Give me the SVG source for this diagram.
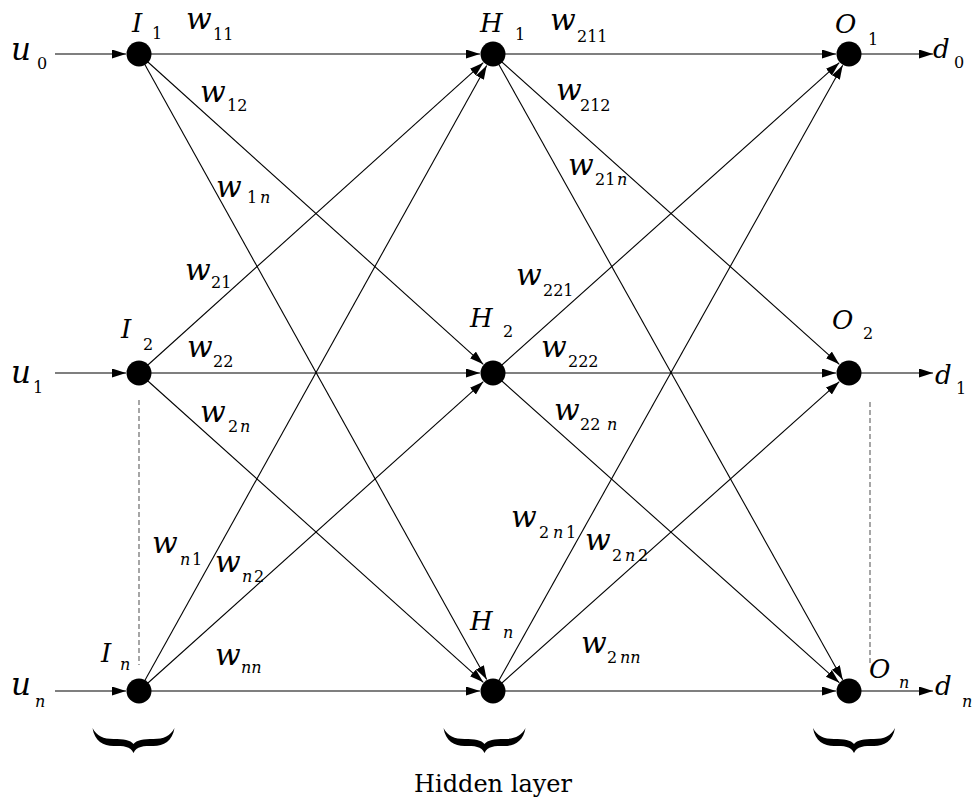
<svg xmlns="http://www.w3.org/2000/svg" width="979" height="801" viewBox="0 0 979 801">
<defs>
<style>
.e{stroke:#000;stroke-width:1.1;fill:none;marker-end:url(#ah)}
.d{stroke:#808080;stroke-width:1.4;stroke-dasharray:5,3;fill:none}
.n{fill:#000}
.L{font-style:italic;font-size:26px}
.W{font-style:italic;font-size:30px}
.U{font-style:italic;font-size:31px}
.s{font-size:16px}
.si{font-style:italic;font-size:16px}
.t{font-size:24px}
</style>
<marker id="ah" markerWidth="15" markerHeight="10" refX="14" refY="4.5" orient="auto" markerUnits="userSpaceOnUse">
<path d="M0,0 L14,4.5 L0,9 Z" fill="#000"/>
</marker>
<path id="brace" d="M-41,0 C-39,13 -30,18 -20,18 C-10,18 -3,18 0,25 C3,18 10,18 20,18 C30,18 39,13 41,0 C37,8 30,11 20,11 C10,11 3,12 0,16 C-3,12 -10,11 -20,11 C-30,11 -37,8 -41,0 Z" fill="#000"/>
</defs>
<rect width="979" height="801" fill="#fff"/>

<g id="connectors">
<line class="e" x1="55" y1="54" x2="126" y2="54"/>
<line class="e" x1="55" y1="373" x2="126" y2="373"/>
<line class="e" x1="55" y1="691" x2="126" y2="691"/>
<line class="e" x1="139" y1="54" x2="480" y2="54"/>
<line class="e" x1="139" y1="54" x2="483.3" y2="364.3"/>
<line class="e" x1="139" y1="54" x2="486.7" y2="679.6"/>
<line class="e" x1="139" y1="373" x2="483.3" y2="62.7"/>
<line class="e" x1="139" y1="373" x2="480" y2="373"/>
<line class="e" x1="139" y1="373" x2="483.3" y2="682.3"/>
<line class="e" x1="139" y1="691" x2="486.7" y2="65.4"/>
<line class="e" x1="139" y1="691" x2="483.3" y2="381.7"/>
<line class="e" x1="139" y1="691" x2="480" y2="691"/>
<line class="e" x1="493" y1="54" x2="836" y2="54"/>
<line class="e" x1="493" y1="54" x2="839.3" y2="364.3"/>
<line class="e" x1="493" y1="54" x2="842.7" y2="679.7"/>
<line class="e" x1="493" y1="373" x2="839.3" y2="62.7"/>
<line class="e" x1="493" y1="373" x2="836" y2="373"/>
<line class="e" x1="493" y1="373" x2="839.3" y2="682.7"/>
<line class="e" x1="493" y1="691" x2="842.7" y2="65.3"/>
<line class="e" x1="493" y1="691" x2="839.3" y2="381.7"/>
<line class="e" x1="493" y1="691" x2="836" y2="691"/>
<line class="e" x1="849" y1="54" x2="933" y2="54"/>
<line class="e" x1="849" y1="373" x2="933" y2="373"/>
<line class="e" x1="849" y1="691" x2="933" y2="691"/>
<line class="d" x1="139" y1="400" x2="139" y2="665"/>
<line class="d" x1="870" y1="402" x2="870" y2="664"/>
</g>

<g font-family="DejaVu Serif, serif" fill="#000">
<g id="weights">
<text class="W" x="186" y="29">w</text><text class="s" x="213" y="40">11</text>
<text class="W" x="200" y="102">w</text><text class="s" x="227" y="111">12</text>
<text class="W" x="216" y="197">w</text><text class="s" x="247" y="203">1</text><text class="si" x="260" y="203">n</text>
<text class="W" x="185" y="280">w</text><text class="s" x="211" y="288">21</text>
<text class="W" x="187" y="357">w</text><text class="s" x="213" y="367">22</text>
<text class="W" x="200" y="422">w</text><text class="s" x="228" y="432">2</text><text class="si" x="240" y="432">n</text>
<text class="W" x="152" y="553">w</text><text class="si" x="180" y="565">n</text><text class="s" x="192" y="565">1</text>
<text class="W" x="215" y="572">w</text><text class="si" x="242" y="582">n</text><text class="s" x="254" y="582">2</text>
<text class="W" x="215" y="665">w</text><text class="si" x="241" y="673">nn</text>
<text class="W" x="550" y="30">w</text><text class="s" x="577" y="42">211</text>
<text class="W" x="556" y="100">w</text><text class="s" x="580" y="111">212</text>
<text class="W" x="568" y="175">w</text><text class="s" x="595" y="185">21</text><text class="si" x="617" y="185">n</text>
<text class="W" x="516" y="285">w</text><text class="s" x="543" y="296">221</text>
<text class="W" x="541" y="357">w</text><text class="s" x="568" y="367">222</text>
<text class="W" x="554" y="420">w</text><text class="s" x="580" y="430">22</text><text class="si" x="607" y="430">n</text>
<text class="W" x="511" y="527">w</text><text class="s" x="539" y="538">2</text><text class="si" x="553" y="538">n</text><text class="s" x="566" y="538">1</text>
<text class="W" x="585" y="550">w</text><text class="s" x="612" y="561">2</text><text class="si" x="625" y="561">n</text><text class="s" x="638" y="561">2</text>
<text class="W" x="581" y="653">w</text><text class="s" x="607" y="663">2</text><text class="si" x="620" y="663">nn</text>
</g>

<g id="input-labels">
<text class="U" x="11" y="60">u</text><text class="s" x="37" y="69">0</text>
<text class="U" x="11" y="383">u</text><text class="s" x="33" y="393">1</text>
<text class="U" x="11" y="695">u</text><text class="si" x="35" y="707">n</text>
</g>

<g id="I1"><circle class="n" cx="139" cy="54" r="12.5"/><text class="L" x="132" y="32">I</text><text class="s" x="152" y="39">1</text></g>
<g id="I2"><circle class="n" cx="139" cy="373" r="12.5"/><text class="L" x="121" y="338">I</text><text class="s" x="143" y="350">2</text></g>
<g id="In"><circle class="n" cx="139" cy="691" r="12.5"/><text class="L" x="101" y="662">I</text><text class="si" x="120" y="670">n</text></g>
<g id="H1"><circle class="n" cx="493" cy="54" r="12.5"/><text class="L" x="480" y="32">H</text><text class="s" x="515" y="40">1</text></g>
<g id="H2"><circle class="n" cx="493" cy="373" r="12.5"/><text class="L" x="470" y="327">H</text><text class="s" x="503" y="337">2</text></g>
<g id="Hn"><circle class="n" cx="493" cy="691" r="12.5"/><text class="L" x="470" y="630">H</text><text class="si" x="503" y="638">n</text></g>
<g id="O1"><circle class="n" cx="849" cy="54" r="12.5"/><text class="L" x="835" y="33">O</text><text class="s" x="868" y="45">1</text></g>
<g id="O2"><circle class="n" cx="849" cy="373" r="12.5"/><text class="L" x="832" y="329">O</text><text class="s" x="863" y="339">2</text></g>
<g id="On"><circle class="n" cx="849" cy="691" r="12.5"/><text class="L" x="869" y="678">O</text><text class="si" x="899" y="688">n</text></g>

<g id="output-labels">
<text class="L" x="933" y="58">d</text><text class="s" x="954" y="68">0</text>
<text class="L" x="935" y="384">d</text><text class="s" x="956" y="394">1</text>
<text class="L" x="935" y="695">d</text><text class="si" x="962" y="707">n</text>
</g>
<text class="t" x="493" y="792" text-anchor="middle">Hidden layer</text>
</g>

<g id="braces">
<use href="#brace" x="133.5" y="728"/>
<use href="#brace" x="484.5" y="728"/>
<use href="#brace" x="854" y="728"/>
</g>
</svg>
